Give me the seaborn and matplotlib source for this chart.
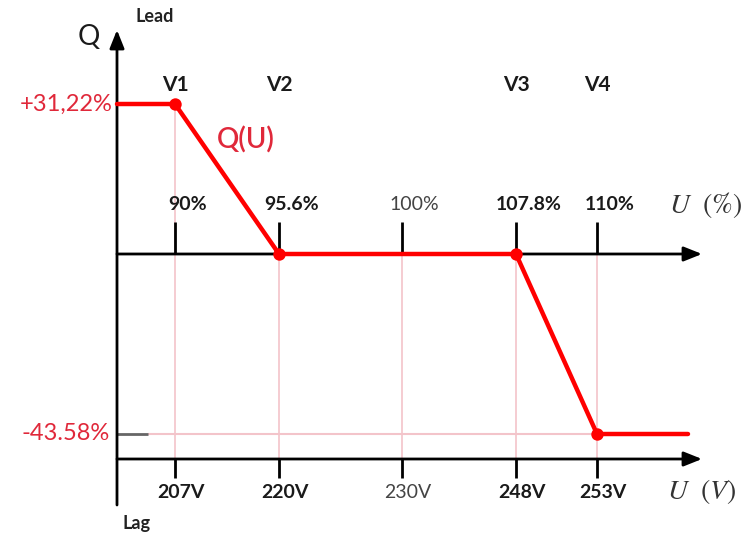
import numpy as np
import matplotlib
matplotlib.use('Agg')
import matplotlib.pyplot as plt
import seaborn as sns

# --- data ---
u_volt = [207, 220, 230, 248, 253]
u_volt_lbl = ['207V', '220V', '230V', '248V', '253V']
u_pct_lbl = ['90%', '95.6%', '100%', '107.8%', '110%']
lbl_bold = [True, True, False, True, True]
v_names = ['V1', 'V2', 'V3', 'V4']
v_at = [207, 220, 248, 253]

u_curve = [200, 207, 220, 248, 253, 259]
q_curve = [31.22, 31.22, 0, 0, -43.58, -43.58]
q_max, q_min = 31.22, -43.58
q_max_lbl, q_min_lbl = '+31,22%', '-43.58%'

W, H = 750, 536

# schematic (non linear) spacing of the drawing
def piecewise(xp, fp):
    xp = np.asarray(xp, float); fp = np.asarray(fp, float)
    s0 = (fp[1] - fp[0]) / (xp[1] - xp[0])
    s1 = (fp[-1] - fp[-2]) / (xp[-1] - xp[-2])
    def f(x):
        x = np.asarray(x, float)
        y = np.interp(x, xp, fp)
        y = np.where(x < xp[0], fp[0] + (x - xp[0]) * s0, y)
        y = np.where(x > xp[-1], fp[-1] + (x - xp[-1]) * s1, y)
        return y
    return f

x_anchor = [200, 207, 220, 230, 248, 253, 259]
x_px = [117, 175, 279, 402, 516, 597, 688]
y_anchor = [q_min, 0, q_max]
y_px = [H - 434, H - 254, H - 104]
fx, ix = piecewise(x_anchor, x_px), piecewise(x_px, x_anchor)
fy, iy = piecewise(y_anchor, y_px), piecewise(y_px, y_anchor)

sns.set_style('white')
plt.rcParams['font.family'] = ['Lato', 'DejaVu Sans']
plt.rcParams['mathtext.fontset'] = 'stix'

fig = plt.figure(figsize=(7.5, 5.36), dpi=100)
ax = fig.add_axes([0, 0, 1, 1])
ax.set_xscale('function', functions=(fx, ix))
ax.set_yscale('function', functions=(fy, iy))
ax.set_xlim(float(ix(0)), float(ix(W)))
ax.set_ylim(float(iy(0)), float(iy(H)))
ax.axis('off')

def fr(px, py):
    return (px / W, 1 - py / H)

q_low = float(iy(H - 459))
x_axis0 = float(ix(117))
xt = ax.get_xaxis_transform()

# pink guides
guide_top = np.clip(np.interp(u_volt, u_curve, q_curve), 0, None)
ax.vlines(u_volt, q_low, guide_top, color='#f3c4ca', lw=1.2, zorder=1)
ax.hlines(q_min, float(ix(148)), 253, color='#f3c4ca', lw=1.5, zorder=1)
ax.hlines(q_min, x_axis0, float(ix(148)), color='#666666', lw=2, zorder=2)

# axes with arrows
arr = dict(arrowstyle='-|>,head_length=0.55,head_width=0.22', color='black',
           lw=2, shrinkA=0, shrinkB=0, mutation_scale=20)
ax.annotate('', xy=fr(117, 30), xytext=fr(117, 505), xycoords='axes fraction',
            arrowprops=arr, zorder=3)
ax.annotate('', xy=fr(702, 254), xytext=fr(117, 254), xycoords='axes fraction',
            arrowprops=arr, zorder=3)
ax.annotate('', xy=fr(702, 459), xytext=fr(117, 459), xycoords='axes fraction',
            arrowprops=arr, zorder=3)

# ticks
ax.vlines(u_volt, 1 - 254 / H, 1 - 222 / H, transform=xt, color='black', lw=2, zorder=3)
ax.vlines(u_volt, 1 - 478 / H, 1 - 459 / H, transform=xt, color='black', lw=2, zorder=3)

# Q(U) curve
sns.lineplot(x=u_curve, y=q_curve, color='#ff0000', lw=3.2, sort=False,
             estimator=None, ax=ax, zorder=5)
sns.scatterplot(x=u_curve[1:5], y=q_curve[1:5], color='#ff0000', s=80,
                linewidth=0, ax=ax, zorder=6)

# labels
for u, pl, vl, b in zip(u_volt, u_pct_lbl, u_volt_lbl, lbl_bold):
    kw = dict(fontweight='bold', color='#1a1a1a') if b else dict(fontweight='normal', color='#444444')
    ax.annotate(pl, xy=(u, 1 - 205 / H), xycoords=xt, xytext=(9, 0),
                textcoords='offset points', ha='center', va='center', fontsize=14, **kw)
    ax.annotate(vl, xy=(u, 1 - 493 / H), xycoords=xt, xytext=(4, 0),
                textcoords='offset points', ha='center', va='center', fontsize=14, **kw)
for name, u in zip(v_names, v_at):
    ax.text(u, 1 - 85 / H, name, transform=xt, ha='center', va='center',
            fontsize=15, fontweight='bold', color='#1a1a1a')

ax.text(*fr(113, 104), q_max_lbl, transform=ax.transAxes, ha='right', va='center',
        fontsize=17, color='#e0283a')
ax.text(*fr(110, 434), q_min_lbl, transform=ax.transAxes, ha='right', va='center',
        fontsize=17, color='#e0283a')
ax.text(*fr(246, 140), 'Q(U)', transform=ax.transAxes, ha='center', va='center',
        fontsize=20, fontweight='semibold', color='#e0283a')
ax.text(*fr(89, 37), 'Q', transform=ax.transAxes, ha='center', va='center',
        fontsize=20, color='#1a1a1a')
ax.text(*fr(155, 17), 'Lead', transform=ax.transAxes, ha='center', va='center',
        fontsize=13, fontweight='bold', color='#222222')
ax.text(*fr(136, 524), 'Lag', transform=ax.transAxes, ha='center', va='center',
        fontsize=13, fontweight='bold', color='#222222')
ax.text(*fr(706, 205), r'$U\ \ (\%)$', transform=ax.transAxes, ha='center', va='center',
        fontsize=20, color='#333333')
ax.text(*fr(702, 492), r'$U\ \ (V)$', transform=ax.transAxes, ha='center', va='center',
        fontsize=20, color='#333333')

fig.savefig('out.png', dpi=100, facecolor='white')
